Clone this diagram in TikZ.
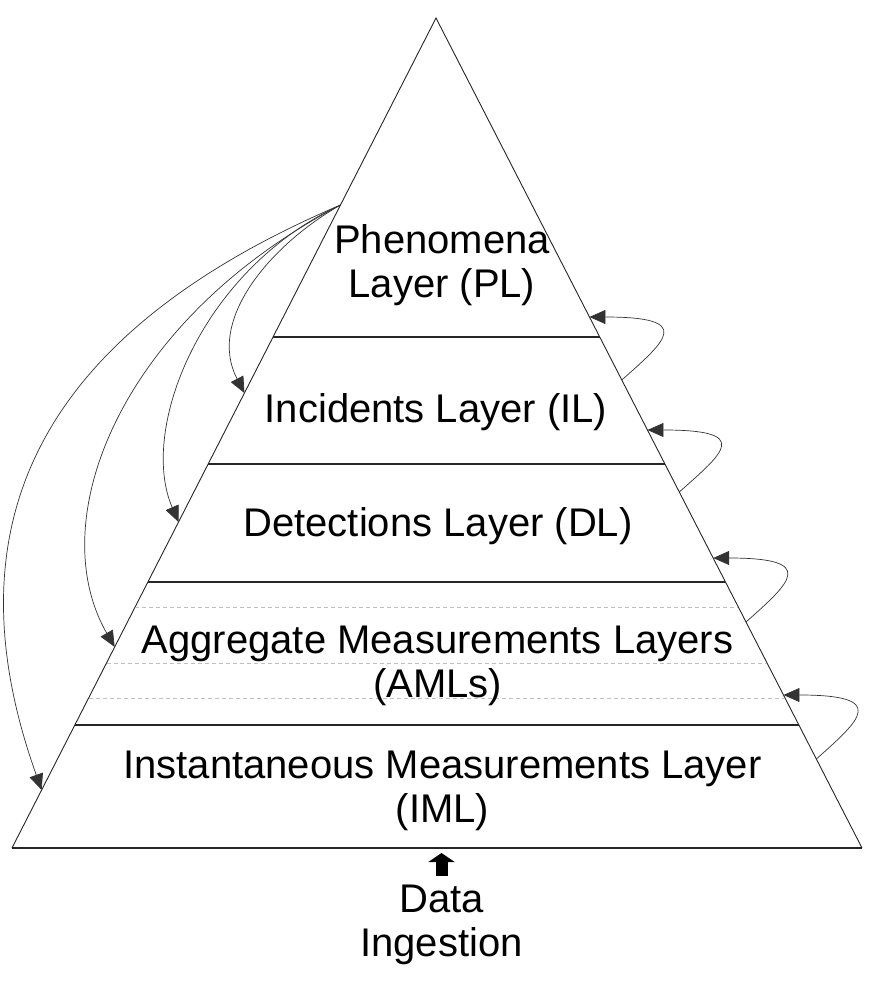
\documentclass[tikz,border=0pt]{standalone}
\usepackage{fontspec}
\setmainfont{Liberation Sans}
\usepackage{tikz}
\usetikzlibrary{calc,arrows.meta}

\begin{document}
\begin{tikzpicture}[x=1pt, y=-1pt,
  edgeline/.style={line width=0.9pt, draw=black!85},
  layerline/.style={line width=1.2pt, draw=black!85},
  subline/.style={line width=0.8pt, draw=black!25, dash pattern=on 4pt off 3pt},
  feedarrow/.style={line width=0.7pt, draw=black!80, -{Triangle[length=16pt 0,width=14pt 0]}},
  ingestarrow/.style={line width=12pt, draw=black, -{Triangle[length=9pt 0,width=26pt 0]}},
  layertext/.style={font=\fontsize{40}{44}\selectfont, align=center, anchor=base, inner sep=0pt},
]
\useasboundingbox (0,0) rectangle (876,982);
% pyramid outline
\coordinate (apex) at (436,18);
\coordinate (bl) at (12,848);
\coordinate (br) at (862,848);
\draw[edgeline] (bl) -- (apex) -- (br);
\draw[layerline] (bl) -- (br);

% layer borders, y in px -> fraction along the side
\foreach \y/\nm in {337/a,464/b,582/c,725/d} {
  \pgfmathsetmacro{\t}{(\y-18)/830}
  \coordinate (L\nm) at ($(apex)!\t!(bl)$);
  \coordinate (R\nm) at ($(apex)!\t!(br)$);
  \draw[layerline] (L\nm) -- (R\nm);
}
% grey sub-layers inside the AMLs
\foreach \y/\nm in {607/a,663/b,698/c} {
  \pgfmathsetmacro{\t}{(\y-18)/830}
  \coordinate (SL\nm) at ($(apex)!\t!(bl)$);
  \coordinate (SR\nm) at ($(apex)!\t!(br)$);
  \draw[subline] (SL\nm) -- (SR\nm);
}

% layer labels (base = last line)
\node[layertext] (pl)  at (442,297)   {Phenomena\\Layer (PL)};
\node[layertext] (il)  at (436,422)   {Incidents Layer (IL)};
\node[layertext] (dl)  at (438,536)   {Detections Layer (DL)};
\node[layertext] (aml) at (437.5,697) {Aggregate Measurements Layers\\(AMLs)};
\node[layertext] (iml) at (442.5,822) {Instantaneous Measurements Layer\\(IML)};
\node[layertext] (data) at (441.5,956) {Data\\Ingestion};

% data ingestion arrow
\coordinate (basein) at (441.5,853);
\draw[ingestarrow, shorten <=8pt] (data.north) -- (basein);

% top-down arrows from the PL
\coordinate (src) at ($(apex)!0.22530!(bl)$);
\coordinate (toil)  at ($(apex)!0.45181!(bl)$);
\coordinate (todl)  at ($(apex)!0.60723!(bl)$);
\coordinate (toaml) at ($(apex)!0.75783!(bl)$);
\coordinate (toiml) at ($(apex)!0.93012!(bl)$);
\draw[feedarrow] (src) .. controls +(-70,40) and +(-38,-73) .. (toil);
\draw[feedarrow] (src) .. controls +(-140,65) and +(-40,-92) .. (todl);
\draw[feedarrow] (src) .. controls +(-220,115) and +(-73,-127) .. (toaml);
\draw[feedarrow] (src) .. controls +(-340,145) and +(-82,-230) .. (toiml);

% bottom-up loops on the right side
\foreach \s/\e/\nm in {0.43614/0.36024/a,0.57108/0.49639/b,0.72771/0.65060/c,0.89277/0.81566/d} {
  \coordinate (up\nm) at ($(apex)!\s!(br)$);
  \coordinate (in\nm) at ($(apex)!\e!(br)$);
  \draw[feedarrow] (up\nm) .. controls +(45,-40) and +(105,0) .. (in\nm);
}
\end{tikzpicture}
\end{document}
